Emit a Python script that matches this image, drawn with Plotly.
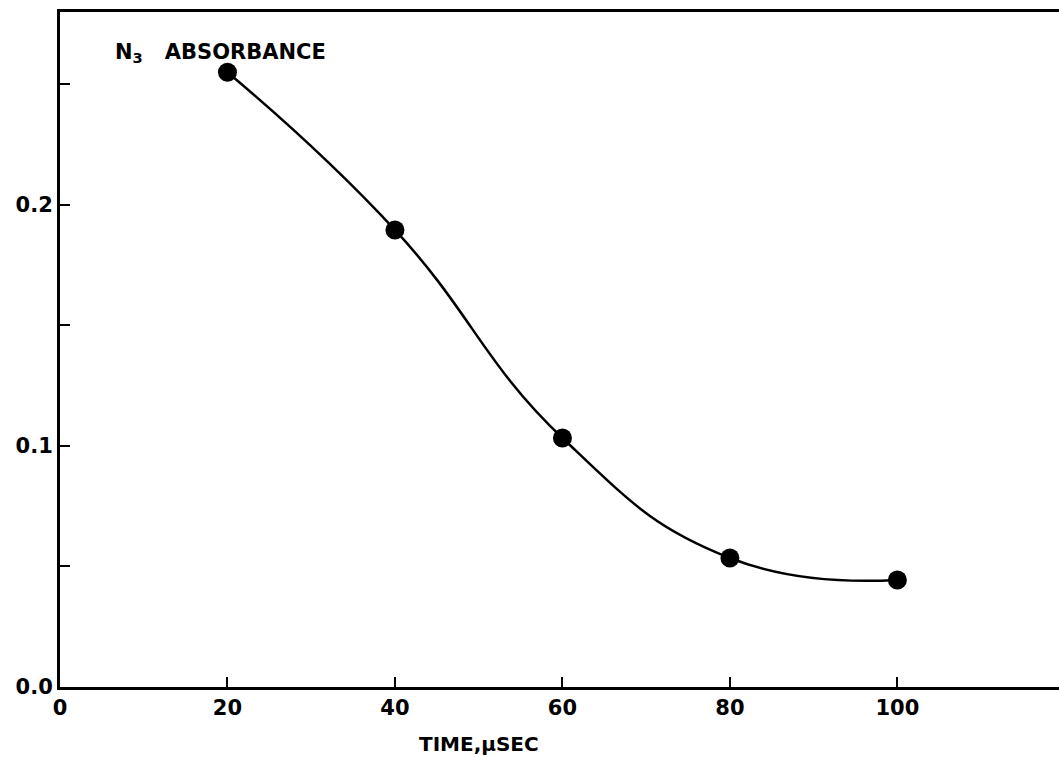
import plotly.graph_objects as go

time_us = [20, 40, 60, 80, 100]
absorbance = [0.255, 0.1896, 0.1033, 0.0535, 0.0444]

x_tick_vals = [0, 20, 40, 60, 80, 100]
x_tick_text = ["0", "20", "40", "60", "80", "100"]
y_tick_vals = [0.0, 0.1, 0.2]
y_tick_text = ["0.0", "0.1", "0.2"]
y_minor_step = 0.05

FONT = "DejaVu Sans"

fig = go.Figure()
fig.add_trace(go.Scatter(
    x=time_us, y=absorbance, mode="lines+markers",
    line=dict(shape="spline", smoothing=1.3, color="black", width=2.5),
    marker=dict(size=19, color="black"),
    showlegend=False, hoverinfo="skip",
))

fig.update_layout(
    width=1059, height=757,
    margin=dict(l=60, r=0, t=12, b=70),
    paper_bgcolor="white", plot_bgcolor="white",
    font=dict(family=FONT, size=21, color="black"),
    xaxis=dict(
        range=[0, 119.3], tickvals=x_tick_vals, ticktext=x_tick_text,
        ticks="inside", ticklen=10, tickwidth=2, tickcolor="black",
        showline=True, linecolor="black", linewidth=3, mirror=True,
        showgrid=False, zeroline=False,
        tickfont=dict(family=FONT, size=21, weight="bold"),
    ),
    yaxis=dict(
        range=[0, 0.28], tickvals=y_tick_vals, ticktext=y_tick_text,
        ticks="inside", ticklen=10, tickwidth=2, tickcolor="black",
        minor=dict(tick0=0, dtick=y_minor_step, ticks="inside", ticklen=10,
                   tickwidth=2, tickcolor="black", showgrid=False),
        showline=True, linecolor="black", linewidth=3,
        showgrid=False, zeroline=False,
        tickfont=dict(family=FONT, size=21, weight="bold"),
    ),
    annotations=[
        dict(text="N<sub>3</sub>   ABSORBANCE", xref="x", yref="y", x=6.3, y=0.263,
             xanchor="left", yanchor="middle", showarrow=False,
             font=dict(family=FONT, size=21, weight="bold")),
        dict(text="TIME,μSEC", xref="x", yref="paper", x=50, y=0,
             xanchor="center", yanchor="middle", yshift=-57, showarrow=False,
             font=dict(family=FONT, size=20, weight="bold")),
    ],
)

fig.write_html("out.html", config={"displayModeBar": False},
               post_script="document.body.style.margin='0';")
